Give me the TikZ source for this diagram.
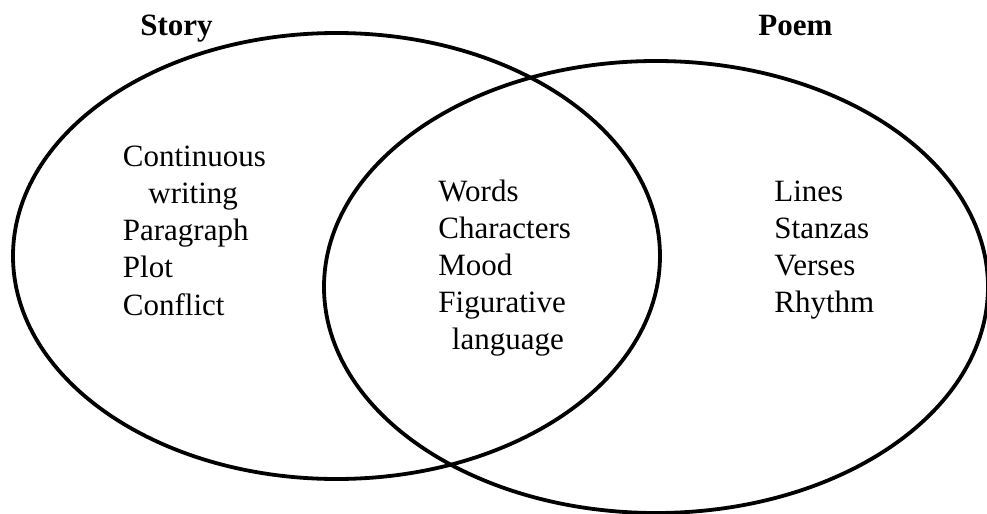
\documentclass[tikz,border=0pt]{standalone}
\usepackage{fontspec}
\setmainfont{Liberation Serif}
\newfontfamily\venntext{Liberation Serif}
\usetikzlibrary{shapes.geometric}

\tikzset{
  setshape/.style={ellipse, draw=black, line width=1.9pt, inner sep=0pt},
  setlabel/.style={anchor=base west, inner sep=0pt, font=\venntext\fontsize{15.5}{18.5}\selectfont\bfseries},
  item/.style={anchor=base west, inner sep=0pt, font=\venntext\fontsize{15.5}{18.5}\selectfont}
}

\begin{document}
\begin{tikzpicture}[x=0.5pt, y=-0.5pt]
  \useasboundingbox (0,0) rectangle (987,514);

  % The two sets
  \node[setshape, minimum width=323.5pt, minimum height=223pt] (story) at (336.5,256) {};
  \node[setshape, minimum width=332pt, minimum height=226pt] (poem) at (656,287) {};

  % Set titles
  \node[setlabel] (storytitle) at (140,35) {Story};
  \node[setlabel] (poemtitle) at (758,35) {Poem};

  % Story only
  \node[item] (s1) at (122.5,166.5) {Continuous};
  \node[item] (s2) at (148,203) {writing};
  \node[item] (s3) at (122.5,240) {Paragraph};
  \node[item] (s4) at (122.5,277.5) {Plot};
  \node[item] (s5) at (122.5,315) {Conflict};

  % Both
  \node[item] (b1) at (438,201) {Words};
  \node[item] (b2) at (438,238) {Characters};
  \node[item] (b3) at (438,275) {Mood};
  \node[item] (b4) at (438,312) {Figurative};
  \node[item] (b5) at (451.5,349) {language};

  % Poem only
  \node[item] (p1) at (774,201) {Lines};
  \node[item] (p2) at (774,238) {Stanzas};
  \node[item] (p3) at (774,275) {Verses};
  \node[item] (p4) at (774,312) {Rhythm};
\end{tikzpicture}
\end{document}
